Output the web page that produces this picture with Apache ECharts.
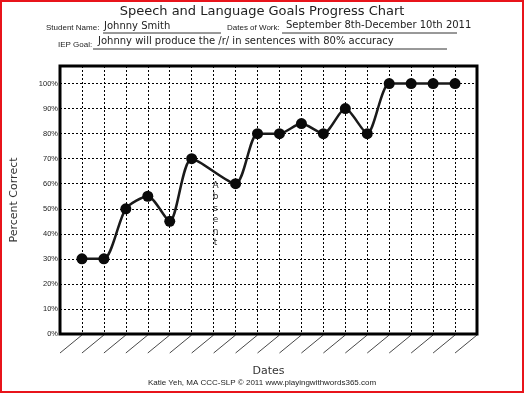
<!DOCTYPE html>
<html><head><meta charset="utf-8">
<style>html,body{margin:0;padding:0;background:#fff}#c{width:525px;height:395px}</style>
<script src="https://cdn.jsdelivr.net/npm/echarts@6/dist/echarts.min.js"></script>
</head><body><div id="c"></div>
<script>
var categories = ["","","","","","","","","","","","","","","","","","","",""];
var percentCorrect = [null,30,30,50,55,45,70,null,60,80,80,84,80,90,80,100,100,100,100,null];
var yTicks = [0,10,20,30,40,50,60,70,80,90,100];
var absentIndex = 7;

var handFont = '"DejaVu Sans", sans-serif';
var smallFont = '"Liberation Sans", Arial, sans-serif';
var chart = echarts.init(document.getElementById('c'));
chart.setOption({
  backgroundColor: '#fff',
  animation: false,
  grid: {left: 60, right: 48, top: 66, bottom: 61, show: false},
  xAxis: {
    type: 'category', data: categories, boundaryGap: false,
    name: 'Dates', nameLocation: 'middle', nameGap: 32,
    nameTextStyle: {fontFamily: handFont, fontSize: 11, color: '#333'},
    axisLine: {show: false}, axisTick: {show: false}, axisLabel: {show: false},
    splitLine: {show: true, lineStyle: {color: '#000', type: [2, 2], width: 1}}
  },
  yAxis: {
    type: 'value', min: 0, max: 107, interval: 10,
    name: 'Percent Correct', nameLocation: 'middle', nameGap: 40,
    nameTextStyle: {fontFamily: handFont, fontSize: 11, color: '#333'},
    axisLine: {show: false}, axisTick: {show: false},
    axisLabel: {showMaxLabel: false, margin: 2, fontSize: 7.5, fontFamily: smallFont, color: '#222',
      formatter: function (v) { return yTicks.indexOf(v) >= 0 ? v + '%' : ''; }},
    splitLine: {show: true, lineStyle: {color: '#000', type: [2, 2], width: 1}}
  },
  series: [{
    type: 'line', data: percentCorrect, connectNulls: true, smooth: 0.25,
    symbol: 'circle', symbolSize: 11, showSymbol: true,
    lineStyle: {color: '#1a1a1a', width: 2.5},
    itemStyle: {color: '#0a0a0a'}
  }]
});

function px(i, v) { return chart.convertToPixel({gridIndex: 0}, [i, v]); }
var g = [];
var p0 = px(0, 0), p1 = px(19, 107);
var L = p0[0], B = p0[1], R = p1[0], T = p1[1];
g.push({type: 'rect', shape: {x: L, y: T, width: R - L, height: B - T}, style: {fill: 'none', stroke: '#000', lineWidth: 3}, z: 10});
for (var i = 0; i < categories.length - 1; i++) {
  var a = px(i, 0), b = px(i + 1, 0);
  g.push({type: 'line', shape: {x1: a[0], y1: B + 19, x2: b[0], y2: B + 1}, style: {stroke: '#333', lineWidth: 0.9}});
}
var ab = px(absentIndex, 60);
g.push({type: 'text', x: ab[0] + 2, y: ab[1] - 4, style: {text: 'A\nb\ns\ne\nn\nt', fontSize: 9, lineHeight: 11.5, fontFamily: handFont, fill: '#333', align: 'center', verticalAlign: 'top'}});
g.push({type: 'text', x: 262, y: 12, style: {text: 'Speech and Language Goals Progress Chart', fontSize: 13, fontFamily: handFont, fill: '#222', align: 'center', verticalAlign: 'middle'}});
g.push({type: 'text', x: 46, y: 28, style: {text: 'Student Name:', fontSize: 8, fontFamily: smallFont, fill: '#222', verticalAlign: 'middle'}});
g.push({type: 'text', x: 104, y: 26, style: {text: 'Johnny Smith', fontSize: 10, fontFamily: handFont, fill: '#222', verticalAlign: 'middle'}});
g.push({type: 'line', shape: {x1: 103, y1: 33, x2: 221, y2: 33}, style: {stroke: '#333', lineWidth: 1}});
g.push({type: 'text', x: 227, y: 28, style: {text: 'Dates of Work:', fontSize: 8, fontFamily: smallFont, fill: '#222', verticalAlign: 'middle'}});
g.push({type: 'text', x: 286, y: 25, style: {text: 'September 8th-December 10th 2011', fontSize: 10, fontFamily: handFont, fill: '#222', verticalAlign: 'middle'}});
g.push({type: 'line', shape: {x1: 282, y1: 33, x2: 457, y2: 33}, style: {stroke: '#333', lineWidth: 1}});
g.push({type: 'text', x: 58, y: 45, style: {text: 'IEP Goal:', fontSize: 8, fontFamily: smallFont, fill: '#222', verticalAlign: 'middle'}});
g.push({type: 'text', x: 98, y: 41, style: {text: 'Johnny will produce the /r/ in sentences with 80% accuracy', fontSize: 10, fontFamily: handFont, fill: '#222', verticalAlign: 'middle'}});
g.push({type: 'line', shape: {x1: 93, y1: 49, x2: 447, y2: 49}, style: {stroke: '#333', lineWidth: 1}});
g.push({type: 'text', x: 262, y: 383, style: {text: 'Katie Yeh, MA CCC-SLP \u00a9 2011 www.playingwithwords365.com', fontSize: 8, fontFamily: smallFont, fill: '#222', align: 'center', verticalAlign: 'middle'}});
g.push({type: 'rect', shape: {x: 1, y: 1, width: 522, height: 391}, style: {fill: 'none', stroke: '#e8141b', lineWidth: 2}, z: 20});
chart.setOption({graphic: g});
</script></body></html>
